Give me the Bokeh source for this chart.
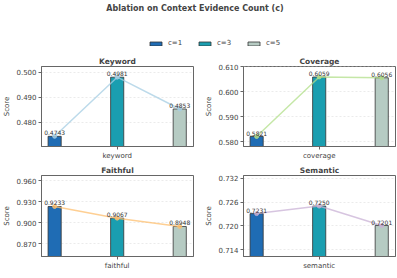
import numpy as np
from bokeh.plotting import figure
from bokeh.layouts import column, row
from bokeh.models import ColumnDataSource, FixedTicker, NumeralTickFormatter, Legend, LegendItem, Range1d
from bokeh.embed import file_html
from bokeh.resources import INLINE

# ---- data ----
configs = ["c=1", "c=3", "c=5"]
metrics = ["keyword", "coverage", "faithful", "semantic"]
titles = ["Keyword", "Coverage", "Faithful", "Semantic"]
keyword_vals = [0.4743, 0.4981, 0.4853]
coverage_vals = [0.5821, 0.6059, 0.6056]
faithful_vals = [0.9233, 0.9067, 0.8948]
semantic_vals = [0.7231, 0.7250, 0.7201]
keyword_ticks = [0.480, 0.490, 0.500]
coverage_ticks = [0.580, 0.590, 0.600, 0.610]
faithful_ticks = [0.870, 0.900, 0.930, 0.960]
semantic_ticks = [0.714, 0.720, 0.726, 0.732]
keyword_ylim = (0.4702, 0.5024)
coverage_ylim = (0.5781, 0.6101)
faithful_ylim = (0.852, 0.9675)
semantic_ylim = (0.7123, 0.7327)

bar_colors = ["#1f6cb4", "#1a9eb0", "#b6cbc3"]
line_colors = ["#a6cee3", "#b2df8a", "#fdbf6f", "#cab2d6"]

FONT = "DejaVu Sans"
FRAME = "#666666"

all_vals = [keyword_vals, coverage_vals, faithful_vals, semantic_vals]
all_ticks = [keyword_ticks, coverage_ticks, faithful_ticks, semantic_ticks]
all_ylim = [keyword_ylim, coverage_ylim, faithful_ylim, semantic_ylim]


def make_panel(i, width, bl, br, bt, bb, fh):
    vals = all_vals[i]
    xs = list(np.arange(len(configs)) - (len(configs) - 1) / 2)
    src = ColumnDataSource(dict(x=xs, top=vals, color=bar_colors,
                                label=["%.4f" % v for v in vals]))
    p = figure(width=width, frame_width=152, frame_height=fh,
               min_border_left=bl, min_border_right=br,
               min_border_top=bt, min_border_bottom=bb,
               x_range=Range1d(-1.21, 1.22), y_range=Range1d(*all_ylim[i]),
               output_backend="svg", toolbar_location=None)
    p.vbar(x="x", top="top", bottom=0, width=0.21, fill_color="color",
           line_color="#333333", line_width=0.8, source=src)
    p.line(x="x", y="top", source=src, line_color=line_colors[i],
           line_width=1.5, line_alpha=0.75)
    p.scatter(x="x", y="top", source=src, size=4, fill_color=line_colors[i],
              line_color=line_colors[i], alpha=0.8)
    p.text(x="x", y="top", text="label", source=src, text_align="center",
           text_baseline="bottom", y_offset=-1, text_font_size="6px",
           text_color="#333333", text_font={"value": FONT})
    p.title.text = titles[i]
    p.title.align = "center"
    p.title.text_font = FONT
    p.title.text_font_size = "7.5px"
    p.title.text_font_style = "bold"
    p.title.standoff = 2
    p.title.offset = 0
    p.xaxis.ticker = FixedTicker(ticks=[0])
    p.xaxis.major_label_overrides = {0: metrics[i]}
    p.yaxis.ticker = FixedTicker(ticks=all_ticks[i])
    p.yaxis.formatter = NumeralTickFormatter(format="0.000")
    p.yaxis.axis_label = "Score"
    p.axis.minor_tick_line_color = None
    p.axis.major_tick_out = 3
    p.axis.major_tick_in = 0
    p.axis.major_label_standoff = 2
    p.yaxis.axis_label_standoff = 2
    p.axis.major_label_text_font = FONT
    p.axis.major_label_text_font_size = "7px"
    p.axis.major_label_text_color = "#444444"
    p.axis.axis_label_text_font = FONT
    p.axis.axis_label_text_font_size = "7px"
    p.axis.axis_label_text_font_style = "normal"
    p.axis.axis_label_text_color = "#444444"
    p.axis.axis_line_color = FRAME
    p.axis.major_tick_line_color = FRAME
    p.outline_line_color = FRAME
    p.outline_line_width = 1
    p.xgrid.grid_line_color = None
    p.ygrid.grid_line_color = "#dddddd"
    p.ygrid.grid_line_dash = "2 2"
    p.ygrid.grid_line_width = 0.6
    return p


# header with suptitle + legend
header = figure(width=389, height=50, min_border=0, x_range=(0, 1), y_range=(0, 1),
                x_axis_location=None, y_axis_location=None,
                output_backend="svg", toolbar_location=None)
header.title.text = "Ablation on Context Evidence Count (c)"
header.title.align = "center"
header.title.text_font = FONT
header.title.text_font_size = "8px"
header.title.text_font_style = "bold"
header.title.standoff = 2
header.grid.visible = False
header.outline_line_color = None
items = []
for c, col in zip(configs, bar_colors):
    r = header.vbar(x=[5], top=[5], bottom=[4], width=0.1, fill_color=col,
                    line_color="#333333", line_width=0.8)
    items.append(LegendItem(label=c, renderers=[r]))
leg = Legend(items=items, orientation="horizontal", location=(148, 3),
             glyph_width=15, glyph_height=5, label_standoff=5, spacing=14,
             label_width=15, padding=0, margin=0, border_line_alpha=0,
             background_fill_alpha=0,
             label_text_font=FONT, label_text_font_size="7px", label_text_color="#444444",
             label_height=7)
header.add_layout(leg, "center")

p1 = make_panel(0, 195, 34, 9, 16, 14, 80)
p2 = make_panel(1, 194, 38, 4, 16, 14, 80)
p3 = make_panel(2, 195, 34, 9, 12, 15, 81)
p4 = make_panel(3, 194, 38, 4, 12, 15, 81)

layout = column(header, row(p1, p2), row(p3, p4))
open("out.html", "w").write(file_html(layout, INLINE))
